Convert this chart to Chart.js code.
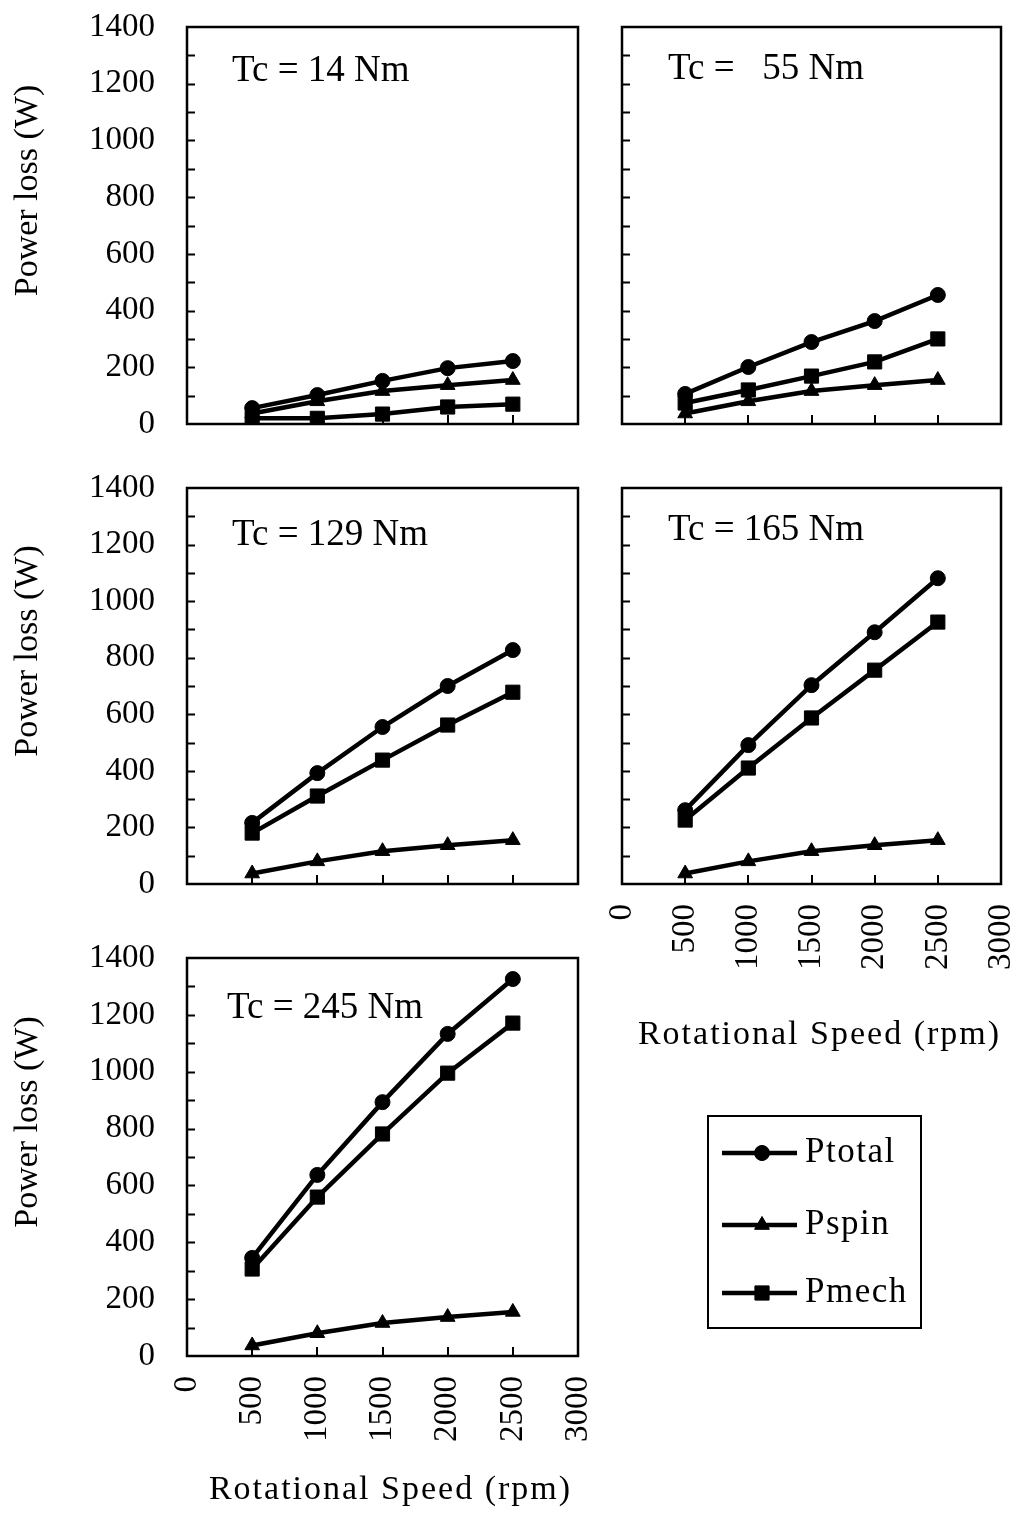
<!DOCTYPE html>
<html>
<head>
<meta charset="utf-8">
<title>Power loss vs rotational speed</title>
<script src="https://cdn.jsdelivr.net/npm/chart.js@4.4.1/dist/chart.umd.min.js"></script>
<style>
  html, body { margin: 0; padding: 0; background: #fff; }
  body { width: 1022px; height: 1533px; position: relative; overflow: hidden; }
  canvas { position: absolute; }
</style>
</head>
<body>
<canvas id="c1" width="600" height="440" style="left:0;top:0"></canvas>
<canvas id="c2" width="422" height="440" style="left:600px;top:0"></canvas>
<canvas id="c3" width="600" height="440" style="left:0;top:460px"></canvas>
<canvas id="c4" width="422" height="600" style="left:600px;top:460px"></canvas>
<canvas id="c5" width="1022" height="603" style="left:0;top:930px"></canvas>
<script>
// rotational speed (rpm)
const speeds = [500, 1000, 1500, 2000, 2500];
const seriesNames = ["Ptotal", "Pspin", "Pmech"];
const tcLabels = ["Tc = 14 Nm", "Tc =   55 Nm", "Tc = 129 Nm", "Tc = 165 Nm", "Tc = 245 Nm"];
const yTitle = "Power loss (W)";
const xTitle = "Rotational Speed (rpm)";

// power loss (W)
const pTotal14 = [56, 102, 152, 197, 222];
const pSpin14 = [37, 80, 116, 137, 155];
const pMech14 = [20, 20, 35, 60, 70];

const pTotal55 = [106, 201, 289, 363, 455];
const pSpin55 = [37, 80, 116, 137, 155];
const pMech55 = [74, 120, 169, 219, 300];

const pTotal129 = [216, 392, 555, 700, 827];
const pSpin129 = [37, 80, 116, 137, 155];
const pMech129 = [180, 311, 438, 562, 678];

const pTotal165 = [261, 491, 703, 890, 1081];
const pSpin165 = [37, 80, 116, 137, 155];
const pMech165 = [226, 410, 587, 756, 926];

const pTotal245 = [345, 637, 893, 1133, 1326];
const pSpin245 = [37, 80, 116, 137, 155];
const pMech245 = [306, 559, 781, 995, 1171];

// axis ranges
const xMin = 0, xMax = 3000, xStep = 500;
const yMin = 0, yMax = 1400, yStep = 200, yMinorStep = 100;

const FONT = "'Liberation Serif', 'Times New Roman', serif";

const markers = [
  { pointStyle: "circle", radius: 7.5 },
  { pointStyle: "triangle", radius: 8.5 },
  { pointStyle: "rect", radius: 10 }
];

// frame box, inward tick marks, Tc label and axis titles
const framePlugin = {
  id: "frame",
  beforeDatasetsDraw(chart) {
    const { ctx, chartArea: a, scales: { x, y } } = chart;
    ctx.save();
    ctx.strokeStyle = "#000";
    ctx.lineWidth = 2;
    ctx.beginPath();
    for (let v = yMin + yMinorStep; v < yMax; v += yMinorStep) {
      const py = Math.round(y.getPixelForValue(v)) + 0.5;
      ctx.moveTo(a.left, py);
      ctx.lineTo(a.left + 8, py);
    }
    for (let v = xMin + xStep; v < xMax; v += xStep) {
      const px = Math.round(x.getPixelForValue(v));
      ctx.moveTo(px, a.bottom);
      ctx.lineTo(px, a.bottom - 9);
    }
    ctx.stroke();
    ctx.lineWidth = 2.5;
    ctx.strokeRect(a.left, a.top, a.right - a.left, a.bottom - a.top);
    ctx.restore();
  },
  afterDraw(chart, args, opts) {
    const { ctx, chartArea: a } = chart;
    ctx.save();
    ctx.fillStyle = "#000";
    ctx.textBaseline = "middle";
    if (opts.text) {
      ctx.font = "37px " + FONT;
      ctx.textAlign = "left";
      ctx.fillText(opts.text, a.left + opts.dx, a.top + opts.dy);
    }
    if (opts.yTitle) {
      ctx.save();
      ctx.font = "34px " + FONT;
      ctx.textAlign = "center";
      ctx.translate(28, (a.top + a.bottom) / 2 - 35);
      ctx.rotate(-Math.PI / 2);
      ctx.fillText(yTitle, 0, 0);
      ctx.restore();
    }
    if (opts.xTitle) {
      ctx.font = "34px " + FONT;
      ctx.letterSpacing = "2px";
      ctx.textAlign = "center";
      ctx.fillText(xTitle, (a.left + a.right) / 2 + 8, a.bottom + opts.xTitleDy);
    }
    ctx.restore();
  }
};

// legend box drawn next to the last panel
const legendPlugin = {
  id: "boxLegend",
  afterDraw(chart, args, opts) {
    if (!opts || !opts.show) return;
    const { ctx } = chart;
    ctx.save();
    ctx.strokeStyle = "#000";
    ctx.lineWidth = 2;
    ctx.strokeRect(opts.x, opts.y, opts.w, opts.h);
    chart.data.datasets.forEach((ds, i) => {
      const cy = opts.y + opts.rows[i];
      ctx.strokeStyle = "#000";
      ctx.lineWidth = ds.borderWidth;
      ctx.beginPath();
      ctx.moveTo(opts.x + 14, cy);
      ctx.lineTo(opts.x + 89, cy);
      ctx.stroke();
      ctx.fillStyle = "#000";
      ctx.lineWidth = 1;
      Chart.helpers.drawPoint(ctx, {
        pointStyle: ds.pointStyle, radius: ds.pointRadius, rotation: 0, borderWidth: 1
      }, opts.x + 54, cy);
      ctx.fill();
      ctx.font = "35px " + FONT;
      ctx.letterSpacing = "1.5px";
      ctx.textBaseline = "middle";
      ctx.textAlign = "left";
      ctx.fillText(ds.label, opts.x + 97, cy);
    });
    ctx.restore();
  }
};

function makeDatasets(total, spin, mech) {
  return [total, spin, mech].map((vals, i) => ({
    label: seriesNames[i],
    data: speeds.map((s, j) => ({ x: s, y: vals[j] })),
    borderColor: "#000",
    backgroundColor: "#000",
    borderWidth: 4.5,
    pointStyle: markers[i].pointStyle,
    pointRadius: markers[i].radius,
    pointBackgroundColor: "#000",
    pointBorderColor: "#000",
    pointBorderWidth: 1,
    tension: 0
  }));
}

function makeChart(id, datasets, cfg) {
  return new Chart(document.getElementById(id), {
    type: "line",
    data: { datasets },
    plugins: [framePlugin, legendPlugin],
    options: {
      responsive: false,
      animation: false,
      events: [],
      layout: { padding: cfg.pad },
      plugins: {
        legend: { display: false },
        tooltip: { enabled: false },
        frame: { text: cfg.tc, dx: cfg.tcDx, dy: cfg.tcDy, yTitle: cfg.showY, xTitle: cfg.showX, xTitleDy: cfg.xTitleDy },
        boxLegend: cfg.legend || { show: false }
      },
      scales: {
        x: {
          type: "linear",
          min: xMin,
          max: xMax,
          display: cfg.showX,
          grid: { display: false, drawTicks: false },
          border: { display: false },
          ticks: {
            stepSize: xStep,
            autoSkip: false,
            minRotation: 90,
            maxRotation: 90,
            padding: 20,
            color: "#000",
            font: { family: FONT, size: 33 },
            callback: (v) => String(v)
          },
          afterFit(scale) {
            if (cfg.showX) scale.height = cfg.xHeight;
            scale.paddingLeft = 0;
            scale.paddingRight = 0;
          }
        },
        y: {
          min: yMin,
          max: yMax,
          display: cfg.showY,
          grid: { display: false, drawTicks: false },
          border: { display: false },
          ticks: {
            stepSize: yStep,
            autoSkip: false,
            padding: 32,
            color: "#000",
            font: { family: FONT, size: 33 },
            callback: (v) => String(v)
          },
          afterFit(scale) {
            if (cfg.showY) scale.width = 187;
            scale.paddingTop = 0;
            scale.paddingBottom = 0;
          }
        }
      }
    }
  });
}

makeChart("c1", makeDatasets(pTotal14, pSpin14, pMech14), {
  pad: { left: 0, top: 27, right: 22, bottom: 16 },
  showX: false, showY: true, tc: tcLabels[0], tcDx: 45, tcDy: 44
});
makeChart("c2", makeDatasets(pTotal55, pSpin55, pMech55), {
  pad: { left: 22, top: 27, right: 21, bottom: 16 },
  showX: false, showY: false, tc: tcLabels[1], tcDx: 46, tcDy: 42
});
makeChart("c3", makeDatasets(pTotal129, pSpin129, pMech129), {
  pad: { left: 0, top: 28, right: 22, bottom: 16 },
  showX: false, showY: true, tc: tcLabels[2], tcDx: 45, tcDy: 47
});
makeChart("c4", makeDatasets(pTotal165, pSpin165, pMech165), {
  pad: { left: 22, top: 28, right: 21, bottom: 0 },
  showX: true, showY: false, xHeight: 176, xTitleDy: 151,
  tc: tcLabels[3], tcDx: 46, tcDy: 42
});
makeChart("c5", makeDatasets(pTotal245, pSpin245, pMech245), {
  pad: { left: 0, top: 28, right: 444, bottom: 0 },
  showX: true, showY: true, xHeight: 177, xTitleDy: 134,
  tc: tcLabels[4], tcDx: 40, tcDy: 50,
  legend: { show: true, x: 708, y: 186, w: 213, h: 212, rows: [37, 109, 177] }
});
</script>
</body>
</html>
